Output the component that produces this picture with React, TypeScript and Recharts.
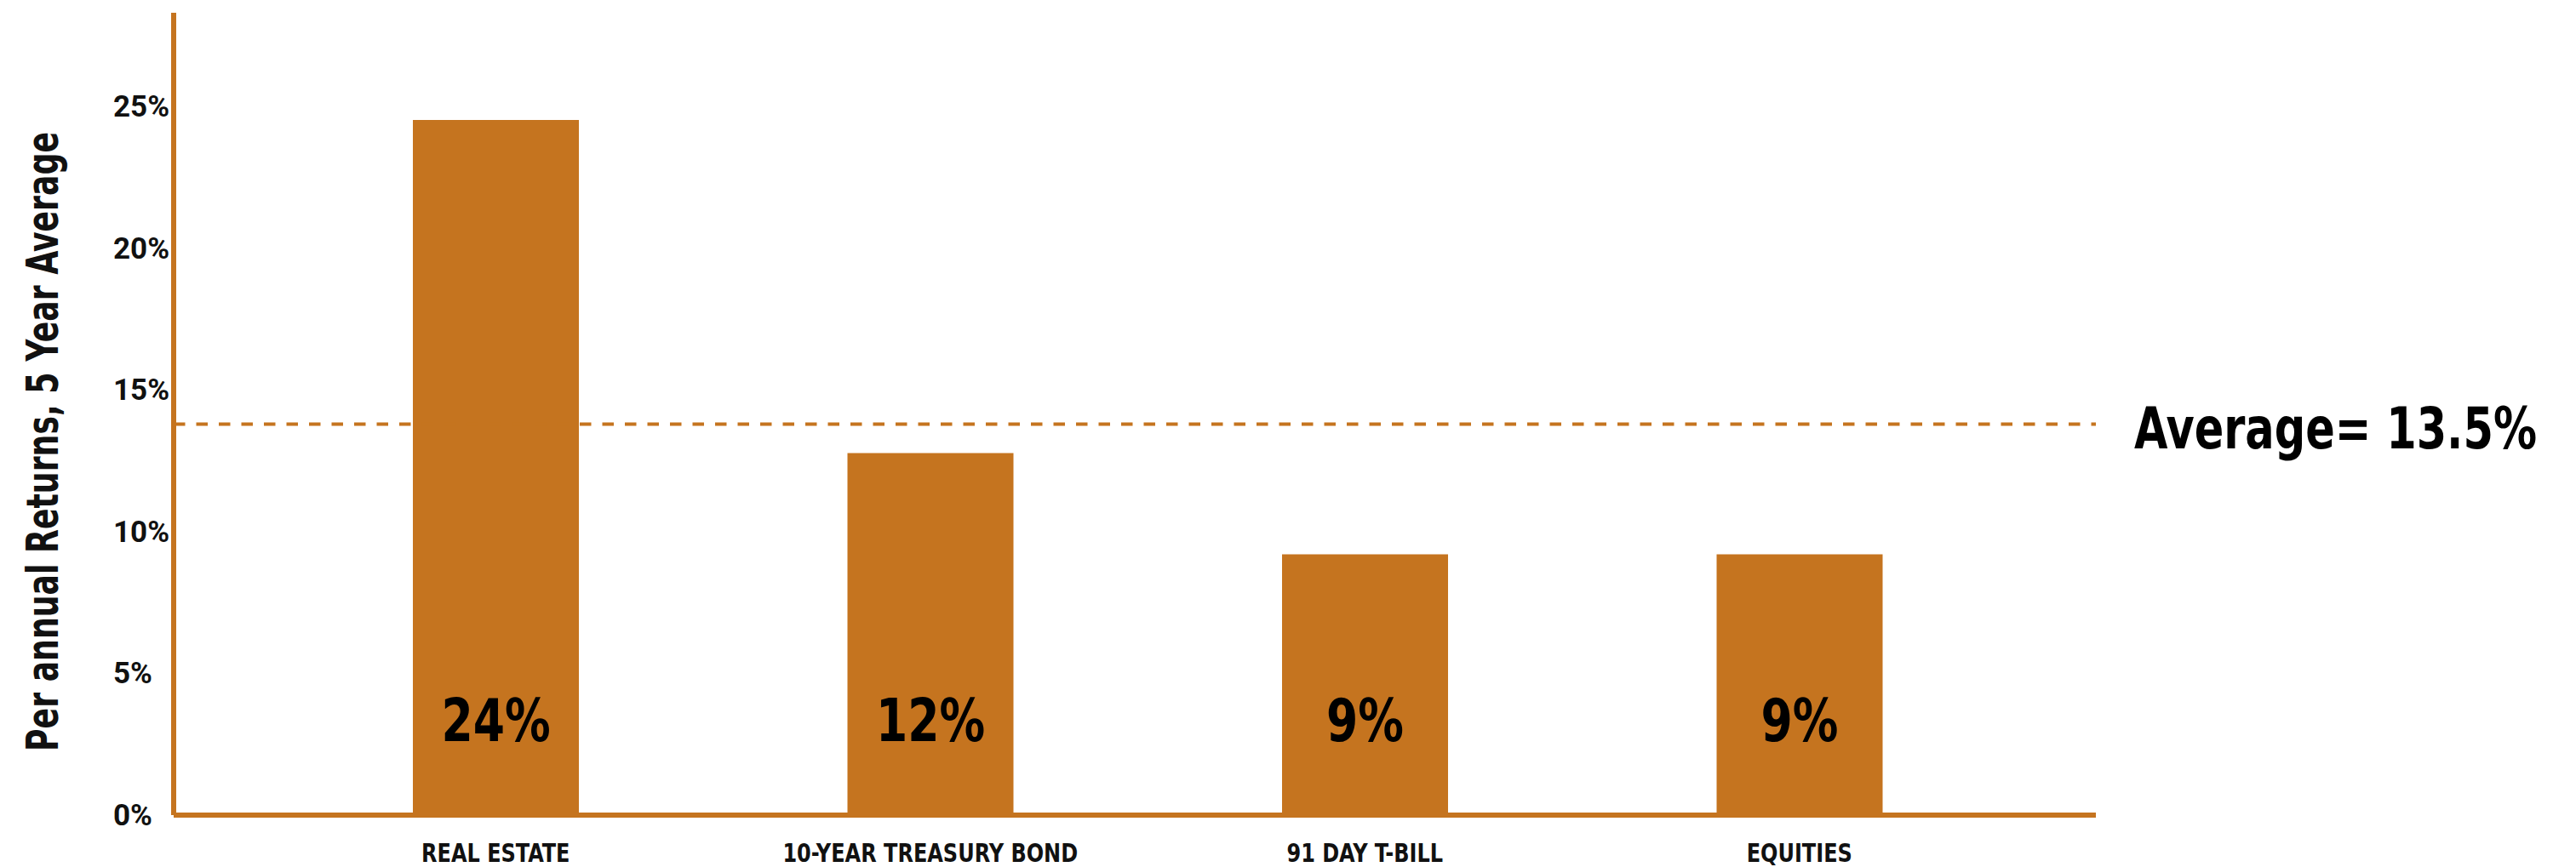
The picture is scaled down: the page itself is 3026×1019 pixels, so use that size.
import React from 'react';
import {
  BarChart,
  Bar,
  XAxis,
  YAxis,
  ReferenceLine,
  LabelList
} from 'recharts';

// values
const categories = ['REAL ESTATE', '10-YEAR TREASURY BOND', '91 DAY T-BILL', 'EQUITIES'];
const returns = [24, 12.5, 9, 9];
const barLabels = ['24%', '12%', '9%', '9%'];
const yTicks = [0, 5, 10, 15, 20, 25];
const average = 13.5;
const averageLabel = 'Average= 13.5%';
const yTitle = 'Per annual Returns, 5 Year Average';

const ORANGE = '#C5741F';
// no narrow font installed, so condensed text gets squeezed a bit horizontally
const NARROW = "'Liberation Sans Narrow', 'DejaVu Sans Condensed', sans-serif";

const data = categories.map((name, i) => ({
  name,
  value: returns[i],
  label: barLabels[i]
}));

const LeftTick = (props: any) => {
  const { x, y, payload } = props;
  return (
    <text
      x={x - 71}
      y={y}
      dy={12}
      textAnchor="start"
      fontFamily="Roboto, sans-serif"
      fontWeight={700}
      fontSize={35}
      fill="#111"
    >
      {`${payload.value}%`}
    </text>
  );
};

const BottomTick = (props: any) => {
  const { x, y, payload } = props;
  return (
    <g transform={`translate(${x},${y}) scale(0.89,1)`}>
      <text
        x={0}
        y={0}
        dy={21}
        textAnchor="middle"
        fontFamily={NARROW}
        fontWeight={700}
        fontSize={30}
        fill="#111"
      >
        {payload.value}
      </text>
    </g>
  );
};

const YTitle = () => (
  <text
    x={68}
    y={519}
    transform="rotate(-90, 68, 519)"
    textAnchor="middle"
    fontFamily={NARROW}
    fontWeight={700}
    fontSize={52}
    fill="#111"
    textLength={728}
    lengthAdjust="spacingAndGlyphs"
  >
    {yTitle}
  </text>
);

const BarValue = (props: any) => {
  const vb = props.viewBox ?? props;
  const { x, y, width, height } = vb;
  return (
    <g transform={`translate(${x + width / 2},${y + height - 87}) scale(0.85,1)`}>
      <text x={0} y={0} textAnchor="middle" fontFamily={NARROW} fontWeight={700} fontSize={70} fill="#000">
        {props.value}
      </text>
    </g>
  );
};

const AverageText = (props: any) => {
  const vb = props.viewBox ?? props;
  const tx = vb.x + vb.width + 45;
  const ty = vb.y + vb.height / 2 + 29;
  return (
    <text
      x={tx}
      y={ty}
      textAnchor="start"
      fontFamily={NARROW}
      fontWeight={700}
      fontSize={68}
      fill="#000"
      textLength={473}
      lengthAdjust="spacingAndGlyphs"
    >
      {averageLabel}
    </text>
  );
};

const App: React.FC = () => {
  return (
    <div style={{ position: 'absolute', left: 0, top: 0, background: '#fff' }}>
      <BarChart
        width={3026}
        height={1019}
        data={data}
        margin={{ top: 15, right: 564, bottom: 0, left: 0 }}
      >
        <XAxis
          dataKey="name"
          height={61}
          interval={0}
          padding={{ left: 123, right: 93 }}
          axisLine={{ stroke: ORANGE, strokeWidth: 6 }}
          tickLine={false}
          tickSize={0}
          tickMargin={34}
          tick={<BottomTick />}
        />
        <YAxis
          yAxisId="ticks"
          width={204}
          type="number"
          domain={[0, 28.3]}
          allowDataOverflow
          ticks={yTicks}
          interval={0}
          axisLine={{ stroke: ORANGE, strokeWidth: 6 }}
          tickLine={false}
          tickSize={0}
          tickMargin={0}
          tick={<LeftTick />}
          label={YTitle}
        />
        <YAxis yAxisId="value" type="number" domain={[0, 27.7]} allowDataOverflow hide />
        <ReferenceLine
          yAxisId="value"
          y={average}
          stroke={ORANGE}
          strokeWidth={4}
          strokeDasharray="13.5 13"
          label={<AverageText />}
        />
        <Bar yAxisId="value" dataKey="value" fill={ORANGE} barSize={195} isAnimationActive={false}>
          <LabelList dataKey="label" content={<BarValue />} />
        </Bar>
      </BarChart>
    </div>
  );
};

export default App;
